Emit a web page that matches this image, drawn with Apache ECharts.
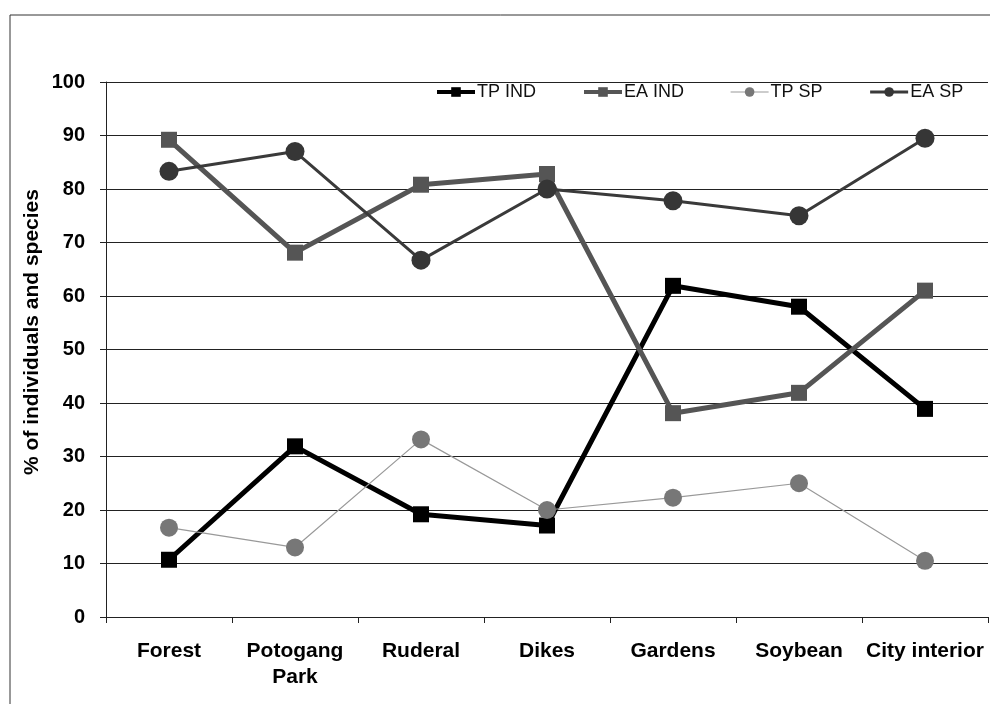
<!DOCTYPE html>
<html><head><meta charset="utf-8">
<script src="https://cdn.jsdelivr.net/npm/echarts@6/dist/echarts.min.js"></script>
<style>html,body{margin:0;padding:0;background:#fff}#c{width:990px;height:704px}</style>
</head><body><div id="c"></div>
<script>
const categories = ['Forest', 'Potogang\nPark', 'Ruderal', 'Dikes', 'Gardens', 'Soybean', 'City interior'];
const tpInd = [10.7, 31.9, 19.2, 17.1, 61.9, 58.0, 38.9];
const eaInd = [89.2, 68.1, 80.8, 82.8, 38.1, 41.9, 61.0];
const tpSp = [16.7, 13.0, 33.2, 20.0, 22.3, 25.0, 10.5];
const eaSp = [83.3, 87.0, 66.7, 80.0, 77.8, 75.0, 89.5];
const yTicks = [0, 10, 20, 30, 40, 50, 60, 70, 80, 90, 100];
const yTitle = '% of individuals and species';

const chart = echarts.init(document.getElementById('c'), null, {renderer: 'canvas'});
const font = 'Arial, "Liberation Sans", sans-serif';
function ser(name, data, color, lineColor, width, symbol, size) {
  return {
    name, type: 'line', data, symbol, symbolSize: size, z: 3,
    lineStyle: {color: lineColor, width},
    itemStyle: {color, borderWidth: 0},
    emphasis: {disabled: true}, animation: false
  };
}
chart.setOption({
  animation: false,
  backgroundColor: '#fff',
  grid: {left: 106, right: 2, top: 82, bottom: 87, containLabel: false},
  legend: {
    top: 78, left: 430, itemGap: 46, itemWidth: 38, itemHeight: 12,
    textStyle: {fontFamily: font, fontSize: 18, color: '#111', padding: [0, 0, 0, -3]},
    data: [
      {name: 'TP IND', lineStyle: {width: 4}},
      {name: 'EA IND', lineStyle: {width: 4}},
      {name: 'TP SP', lineStyle: {width: 1.2}},
      {name: 'EA SP', lineStyle: {width: 3}}
    ]
  },
  xAxis: {
    type: 'category', data: categories, boundaryGap: true,
    axisLine: {lineStyle: {color: '#222', width: 1}},
    axisTick: {show: true, length: 6, lineStyle: {color: '#222'}},
    axisLabel: {fontFamily: font, fontWeight: 'bold', fontSize: 21, color: '#000', margin: 21, lineHeight: 26, interval: 0}
  },
  yAxis: {
    type: 'value', min: 0, max: 100, interval: 10,
    axisLine: {show: true, lineStyle: {color: '#222', width: 1}},
    axisTick: {show: true, length: 6, lineStyle: {color: '#222'}},
    axisLabel: {fontFamily: font, fontWeight: 'bold', fontSize: 20, color: '#000', margin: 21,
      formatter: v => yTicks.includes(v) ? String(v) : ''},
    splitLine: {show: true, lineStyle: {color: '#222', width: 1}}
  },
  series: [
    ser('TP IND', tpInd, '#000', '#000', 5, 'rect', 16),
    ser('EA IND', eaInd, '#555', '#555', 5, 'rect', 16),
    ser('TP SP', tpSp, '#777', '#999', 1.2, 'circle', 18),
    ser('EA SP', eaSp, '#363636', '#3a3a3a', 3, 'circle', 19)
  ],
  graphic: [{
    type: 'rect', left: 7.5, top: 12.5, silent: true,
    shape: {width: 990, height: 720},
    style: {fill: 'none', stroke: '#333', lineWidth: 1}
  }, {
    type: 'text', x: 32, y: 332, rotation: Math.PI / 2, silent: true,
    style: {text: yTitle, fontFamily: font, fontWeight: 'bold', fontSize: 21, fill: '#000',
      align: 'center', verticalAlign: 'middle'}
  }]
});
</script></body></html>
